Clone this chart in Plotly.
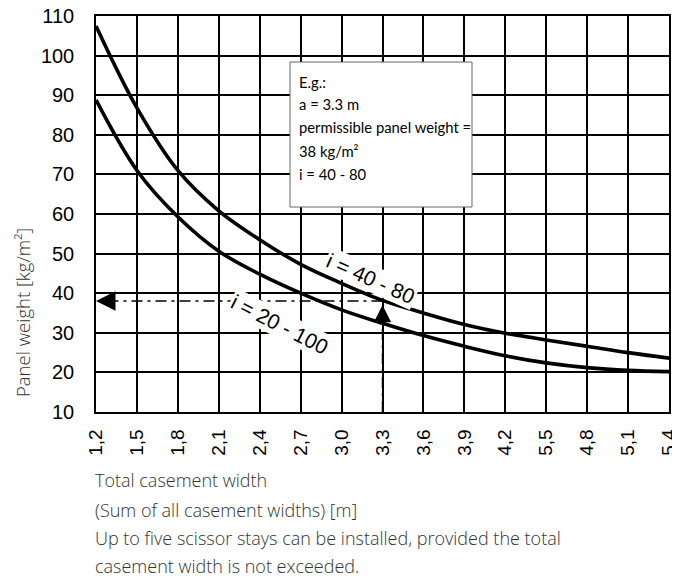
import plotly.graph_objects as go

# ---- data ----
x_ticks = [1.2, 1.5, 1.8, 2.1, 2.4, 2.7, 3.0, 3.3, 3.6, 3.9, 4.2, 4.5, 4.8, 5.1, 5.4]
x_tick_labels = ["1,2", "1,5", "1,8", "2,1", "2,4", "2,7", "3,0", "3,3", "3,6",
                 "3,9", "4,2", "5,5", "4,8", "5,1", "5,4"]
y_ticks = [10, 20, 30, 40, 50, 60, 70, 80, 90, 100, 110]

curve_40_80 = [107.5, 86.8, 71.0, 60.8, 53.5, 47.3, 42.5, 38.2, 35.0, 32.1, 29.9, 28.2, 26.6, 25.0, 23.6]
curve_20_100 = [88.8, 71.0, 59.3, 50.6, 44.8, 40.0, 35.8, 32.4, 29.3, 26.6, 24.2, 22.4, 21.2, 20.5, 20.2]

example_width = 3.3
example_weight = 38

box_lines = ["E.g.:", "a = 3.3 m", "permissible panel weight =", "38 kg/m²", "i = 40 - 80"]
bottom_lines = ["Total casement width",
                "(Sum of all casement widths) [m]",
                "Up to five scissor stays can be installed, provided the total",
                "casement width is not exceeded."]
y_title = "Panel weight [kg/m²]"

# ---- layout helpers (page body has an 8px margin) ----
PLOT_W, PLOT_H = 573, 396
ML, MT, MR, MB = 88, 8, 11, 168


def px_to_x(px):  # screen px -> x data
    return x_ticks[0] + (px - 96) / PLOT_W * (x_ticks[-1] - x_ticks[0])


def px_to_y(py):  # screen px -> y data
    return y_ticks[-1] - (py - 16) / PLOT_H * (y_ticks[-1] - y_ticks[0])


# ---- figure ----
fig = go.Figure()
for ys in (curve_40_80, curve_20_100):
    fig.add_trace(go.Scatter(x=x_ticks, y=ys, mode="lines",
                             line=dict(color="black", width=3.6, shape="spline", smoothing=1.0),
                             hoverinfo="skip", showlegend=False))

dashdot = "11px,5px,3px,5px"
fig.add_trace(go.Scatter(x=[example_width, x_ticks[0] + 0.12], y=[example_weight, example_weight],
                         mode="lines", line=dict(color="black", width=1.5, dash=dashdot),
                         showlegend=False, hoverinfo="skip"))
fig.add_trace(go.Scatter(x=[example_width, example_width], y=[y_ticks[0], example_weight - 3.5],
                         mode="lines", line=dict(color="black", width=1.5, dash=dashdot),
                         showlegend=False, hoverinfo="skip"))

LS = "Liberation Sans, Arial, sans-serif"
LIGHT = "Open Sans, Noto Sans, sans-serif"
BOX = "Lato, Open Sans, sans-serif"

annotations = []
# arrowheads
annotations.append(dict(x=x_ticks[0], y=example_weight, ax=x_ticks[0] + 0.14, ay=example_weight,
                        xref="x", yref="y", axref="x", ayref="y", text="", showarrow=True,
                        arrowhead=2, arrowsize=2.6, arrowwidth=1.5, arrowcolor="black", standoff=0))
annotations.append(dict(x=example_width, y=example_weight - 1, ax=example_width, ay=example_weight - 5,
                        xref="x", yref="y", axref="x", ayref="y", text="", showarrow=True,
                        arrowhead=2, arrowsize=2.3, arrowwidth=1.5, arrowcolor="black", standoff=0))
# curve labels
annotations.append(dict(x=px_to_x(371), y=px_to_y(278), xref="x", yref="y", text="i = 40 - 80",
                        showarrow=False, textangle=24, bgcolor="white", borderpad=1,
                        xanchor="center", yanchor="middle",
                        font=dict(family=LS, size=21, color="black")))
annotations.append(dict(x=px_to_x(280), y=px_to_y(324), xref="x", yref="y", text="i = 20 - 100",
                        showarrow=False, textangle=27, bgcolor="white", borderpad=1,
                        xanchor="center", yanchor="middle",
                        font=dict(family=LS, size=21, color="black")))
# example box text
for line, ypx in zip(box_lines, [82, 104, 127, 151, 174]):
    annotations.append(dict(x=px_to_x(297), y=px_to_y(ypx), xref="x", yref="y",
                            xanchor="left", yanchor="middle", text=line, showarrow=False,
                            font=dict(family=BOX, size=14.8, color="black")))
# y title
annotations.append(dict(x=(22 - 96) / PLOT_W, y=(412 - 313) / PLOT_H, xref="paper", yref="paper",
                        text=y_title, textangle=-90, showarrow=False,
                        xanchor="center", yanchor="middle",
                        font=dict(family=LIGHT, size=18.5, color="#333333", weight=300)))
# bottom notes
for line, ypx in zip(bottom_lines, [480, 510, 538, 566]):
    annotations.append(dict(x=(93 - 96) / PLOT_W, y=(412 - ypx) / PLOT_H, xref="paper", yref="paper",
                            xanchor="left", yanchor="middle", text=line, showarrow=False,
                            font=dict(family=LIGHT, size=18, color="#333333", weight=300)))

shapes = [dict(type="rect", xref="x", yref="y", x0=px_to_x(290), x1=px_to_x(472),
               y0=px_to_y(207), y1=px_to_y(62), fillcolor="white",
               line=dict(color="#666666", width=1), layer="above")]

axis_common = dict(showgrid=True, gridcolor="black", gridwidth=1.5, showline=True, mirror=True,
                   linecolor="black", linewidth=1.5, zeroline=False, ticks="", automargin=False,
                   ticklabeloverflow="allow")
fig.update_layout(
    width=ML + PLOT_W + MR, height=MT + PLOT_H + MB,
    margin=dict(l=ML, r=MR, t=MT, b=MB),
    paper_bgcolor="white", plot_bgcolor="white",
    xaxis=dict(range=[x_ticks[0], x_ticks[-1]], tickmode="array", tickvals=x_ticks,
               ticktext=x_tick_labels, tickangle=-90, ticklabelstandoff=8,
               tickfont=dict(family=LS, size=19, color="black"), **axis_common),
    yaxis=dict(range=[y_ticks[0], y_ticks[-1]], tickmode="array", tickvals=y_ticks,
               ticklabelstandoff=16, tickfont=dict(family=LS, size=20, color="black"),
               **axis_common),
    annotations=annotations,
    shapes=shapes,
)
fig.write_html("out.html")
